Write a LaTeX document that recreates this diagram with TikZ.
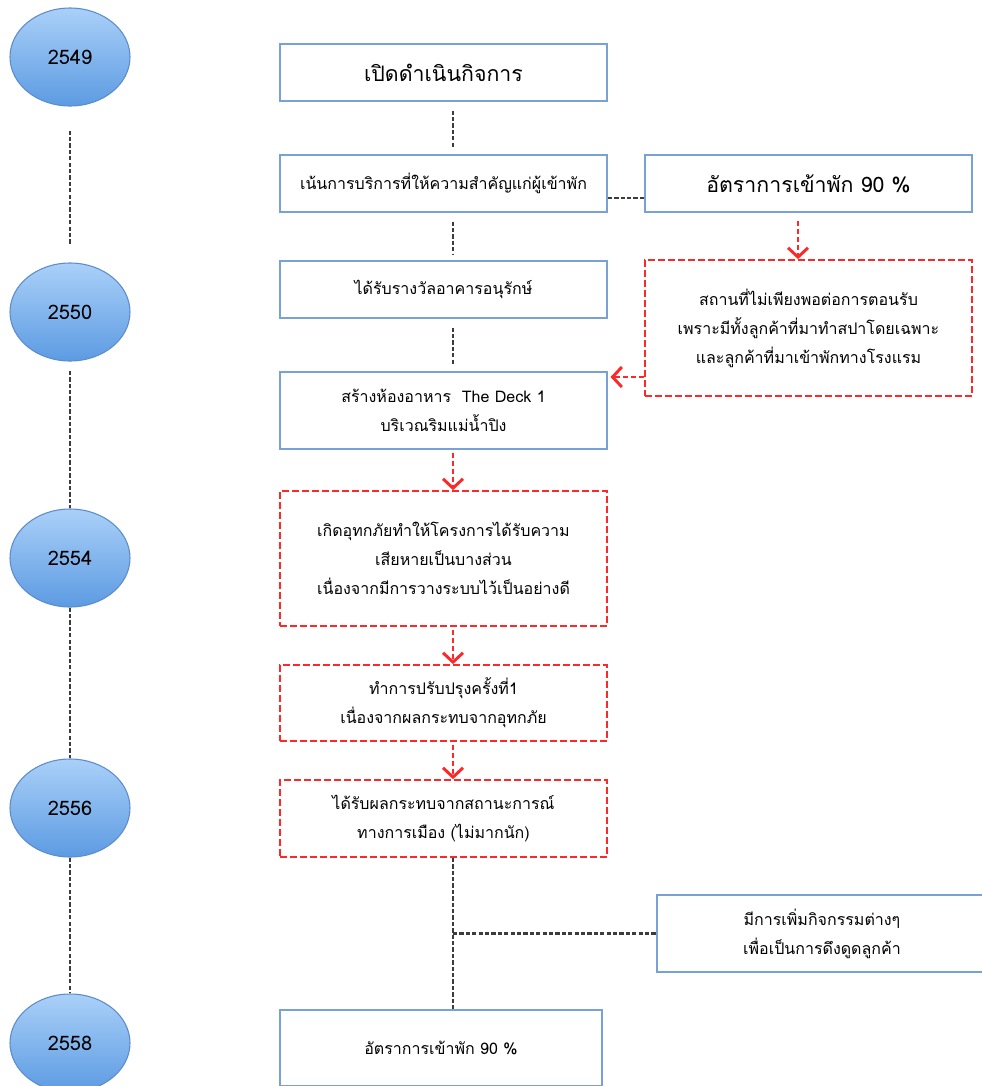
\documentclass[tikz,border=0pt]{standalone}
\usepackage{fontspec}
\setmainfont[Script=Thai]{Loma}
\usetikzlibrary{arrows.meta,shapes.geometric}
\definecolor{boxblue}{RGB}{120,162,214}
\definecolor{yearline}{RGB}{92,140,205}
\definecolor{yeartop}{RGB}{170,208,248}
\definecolor{yearbot}{RGB}{92,155,226}
\definecolor{linkgray}{RGB}{60,60,60}
\definecolor{warnred}{RGB}{255,40,40}
\newcommand{\px}{0.75pt}

\begin{document}
\begin{tikzpicture}[
    x=0.75pt, y=-0.75pt,
    year/.style={ellipse, draw=yearline, line width=0.8pt, top color=yeartop, bottom color=yearbot,
        minimum width=120*\px, minimum height=98*\px, font=\fontsize{15}{18}\selectfont},
    box/.style={draw=boxblue, line width=1.3pt, minimum width=327*\px, align=center,
        font=\fontsize{12}{21.75}\selectfont},
    rbox/.style={box, draw=warnred, dash pattern=on 5pt off 2.5pt},
    link/.style={draw=linkgray, line width=1.8pt, dash pattern=on 3.2pt off 1.6pt},
    rarr/.style={draw=warnred, line width=1.5pt, dash pattern=on 4pt off 2pt,
        -{Straight Barb[length=7pt,width=15pt,line width=2.2pt]}}
]
\useasboundingbox (0,0) rectangle (982,1086);

% years
\node[year] (y49) at (70,57) {2549};
\node[year] (y50) at (70,312) {2550};
\node[year] (y54) at (70,558) {2554};
\node[year] (y56) at (70,808) {2556};
\node[year] (y58) at (70,1043) {2558};

% main column
\node[box, minimum height=57*\px, font=\fontsize{16}{20}\selectfont] (open) at (443.5,72.5) {เปิดดำเนินกิจการ};
\node[box, minimum height=57*\px] (service) at (443.5,183.5) {เน้นการบริการที่ให้ความสำคัญแก่ผู้เข้าพัก};
\node[box, minimum height=57*\px] (award) at (443.5,289.5) {ได้รับรางวัลอาคารอนุรักษ์};
\node[box, minimum height=77*\px] (deck) at (443.5,410.5) {สร้างห้องอาหาร\ \ The Deck 1\\บริเวณริมแม่น้ำปิง};
\node[rbox, minimum height=135*\px] (flood) at (443.5,558.5) {เกิดอุทกภัยทำให้โครงการได้รับความ\\เสียหายเป็นบางส่วน\\เนื่องจากมีการวางระบบไว้เป็นอย่างดี};
\node[rbox, minimum height=76*\px] (renov) at (443.5,703) {ทำการปรับปรุงครั้งที่1\\เนื่องจากผลกระทบจากอุทกภัย};
\node[rbox, minimum height=77*\px] (polit) at (443.5,818.5) {ได้รับผลกระทบจากสถานะการณ์\\ทางการเมือง (ไม่มากนัก)};
\node[box, minimum width=322*\px, minimum height=76*\px] (rate58) at (441,1048) {อัตราการเข้าพัก 90 \%};

% side column
\node[box, minimum height=57*\px, font=\fontsize{16}{20}\selectfont] (rate49) at (808.5,183.5) {อัตราการเข้าพัก 90 \%};
\node[rbox, minimum height=136*\px] (space) at (808.5,328) {สถานที่ไม่เพียงพอต่อการตอนรับ\\เพราะมีทั้งลูกค้าที่มาทำสปาโดยเฉพาะ\\และลูกค้าที่มาเข้าพักทางโรงแรม};
\node[box, minimum width=330*\px, minimum height=77*\px] (activity) at (822,933.5) {มีการเพิ่มกิจกรรมต่างๆ\\เพื่อเป็นการดึงดูดลูกค้า};

\coordinate (spine) at (453,0);
\coordinate (tie) at (0,198);
\coordinate (drop) at (798,0);
\coordinate (back) at (0,377);

% timeline
\draw[link, shorten <=18pt, shorten >=13pt] (y49) -- (y50);
\draw[link, shorten <=7pt] (y50) -- (y54);
\foreach \a/\b in {y54/y56, y56/y58}
    \draw[link] (\a) -- (\b);

% connectors
\foreach \a/\b in {open/service, service/award, award/deck}
    \draw[link, shorten <=6.5pt, shorten >=4pt] (\a.south -| spine) -- (\b.north -| spine);
\draw[link] (service.east |- tie) -- (rate49.west |- tie);
\draw[rarr, shorten <=6pt] (rate49.south -| drop) -- (space.north -| drop);
\draw[rarr, shorten >=2pt] (space.west |- back) -- (deck.east |- back);
\foreach \a/\b in {deck/flood, flood/renov, renov/polit}
    \draw[rarr, shorten <=2pt] (\a.south -| spine) -- (\b.north -| spine);
\draw[link] (polit.south -| spine) -- (rate58.north -| spine);
\draw[link] (activity.west -| spine) -- (activity.west);
\end{tikzpicture}
\end{document}
